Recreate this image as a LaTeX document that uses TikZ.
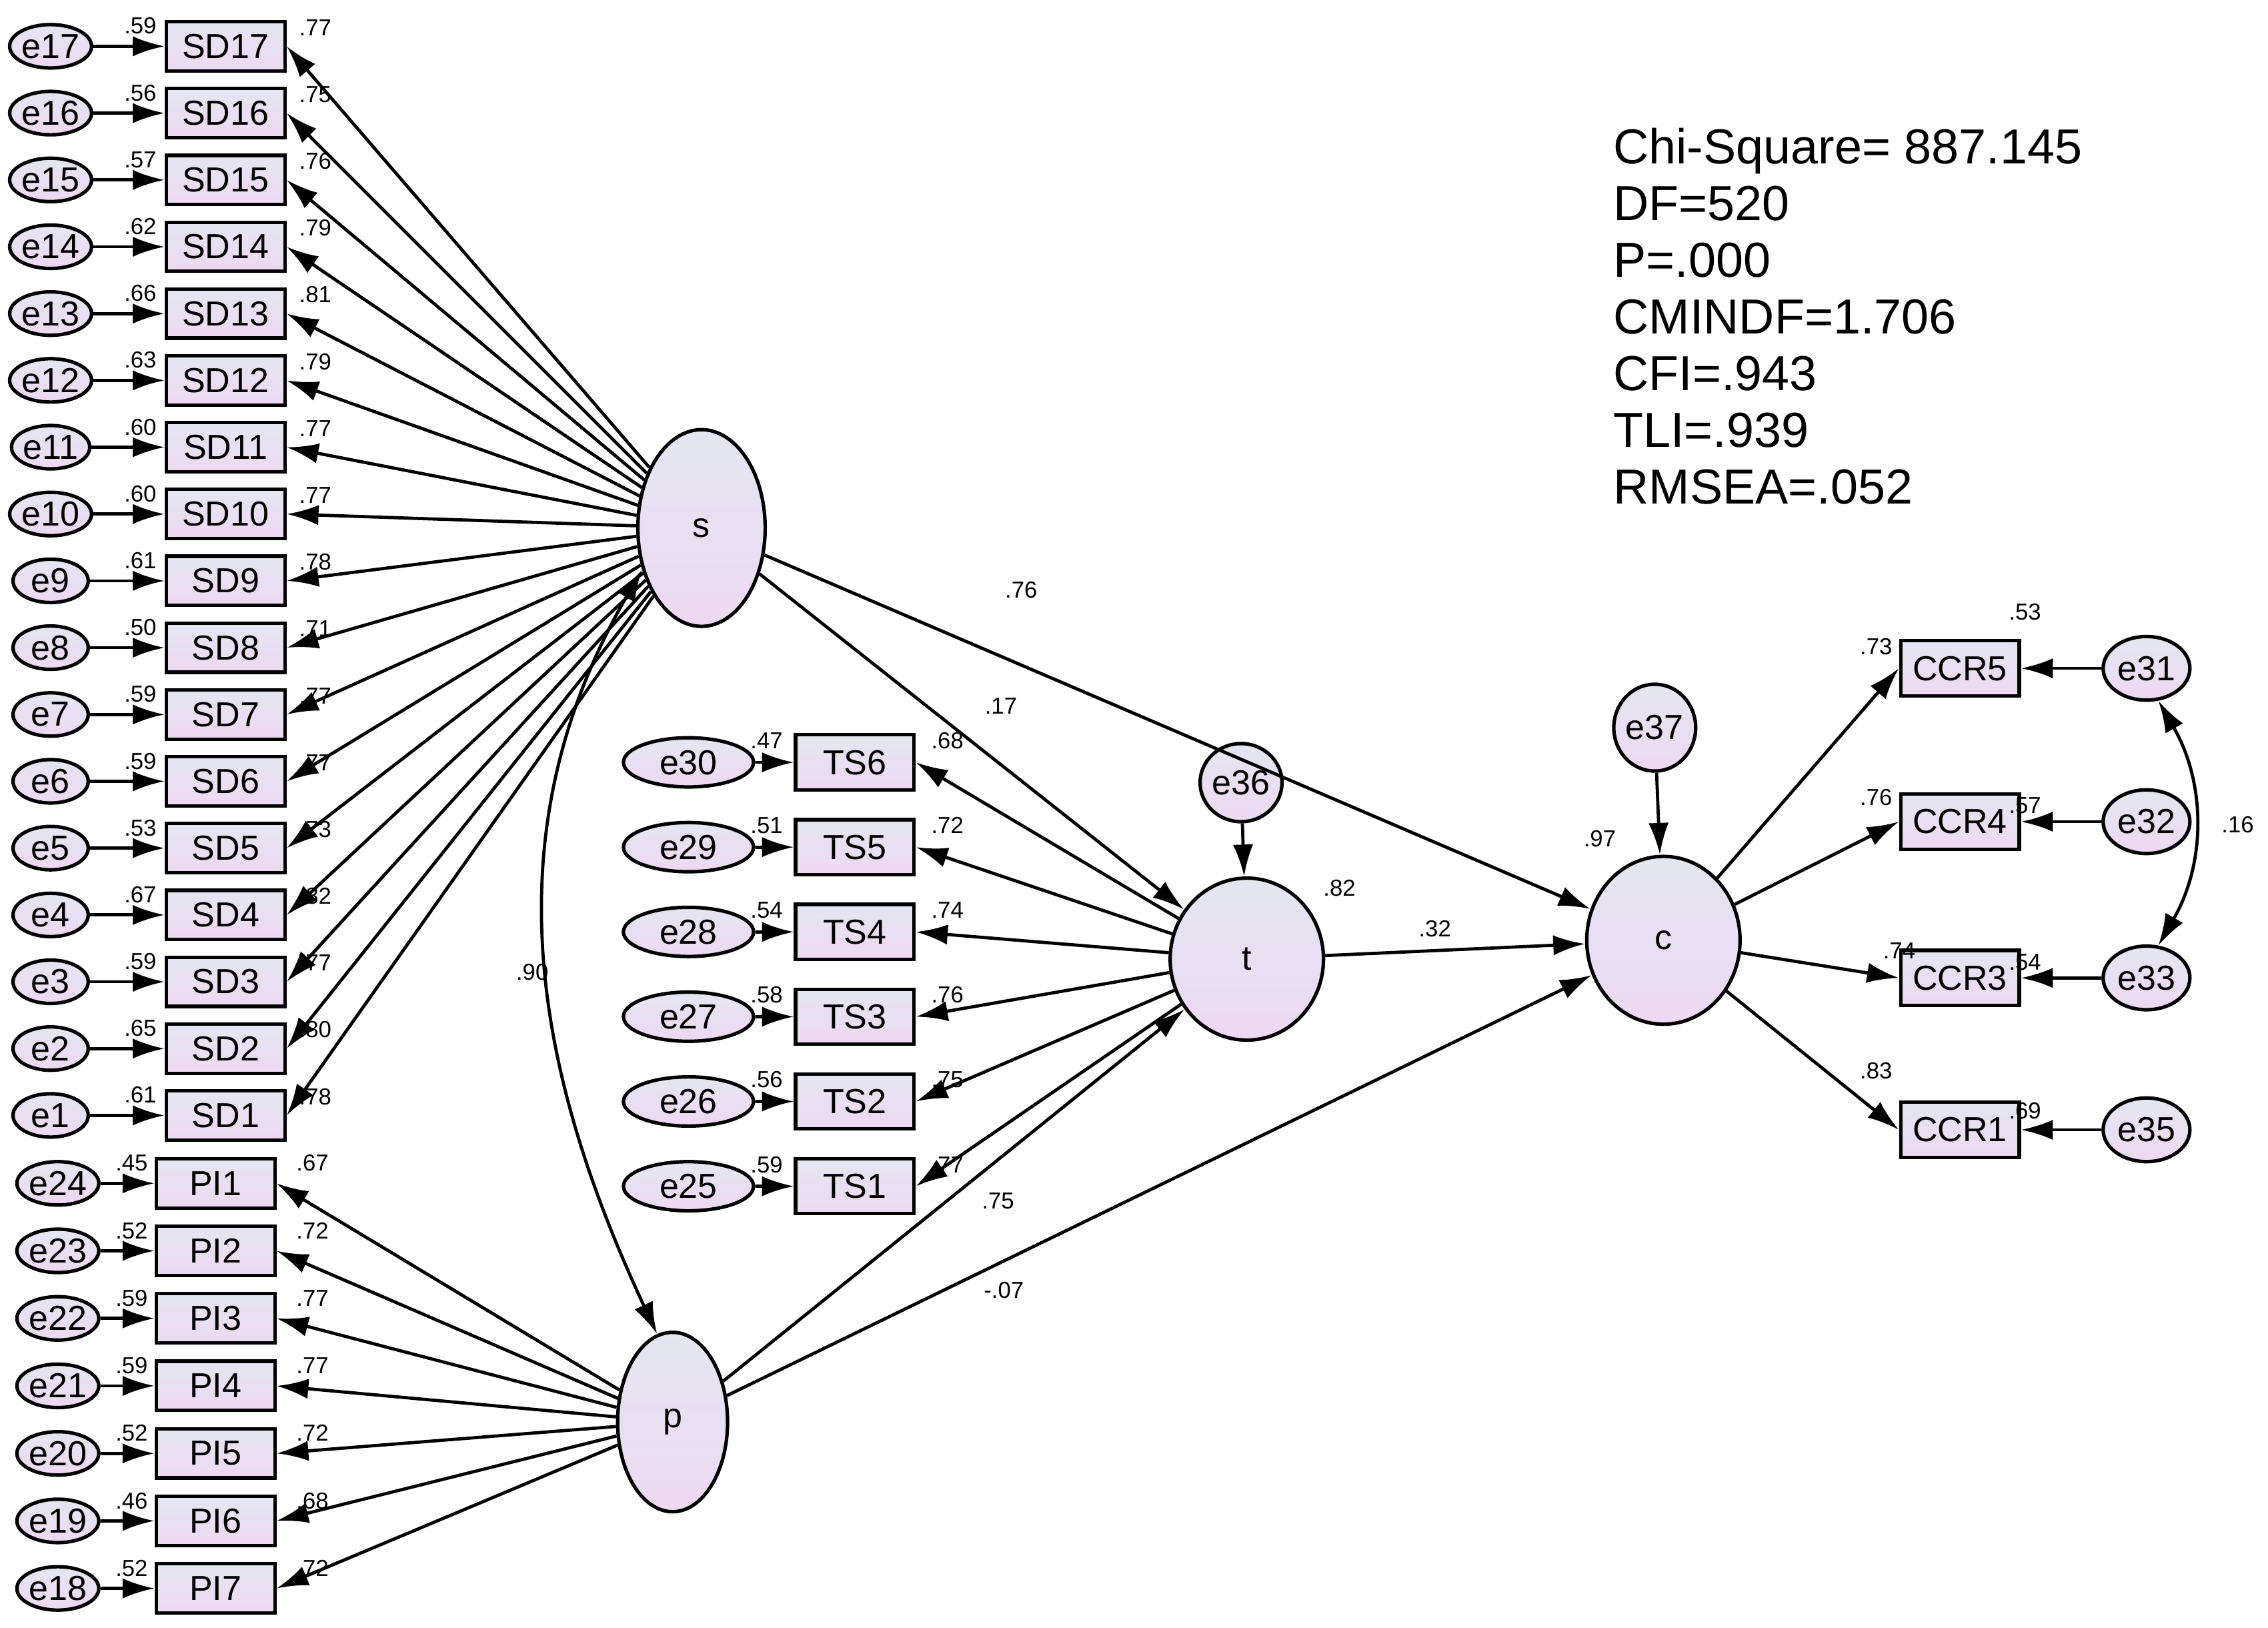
\documentclass[tikz,border=0pt]{standalone}
\usepackage{fontspec}
\setmainfont{Liberation Sans}
\usetikzlibrary{arrows.meta,shapes.geometric}
\begin{document}
\begin{tikzpicture}[x=0.5pt,y=-0.5pt,
 fillc/.style={top color={rgb,255:red,228;green,230;blue,242},bottom color={rgb,255:red,238;green,216;blue,242}},
 box/.style={draw,line width=1.2pt,fillc,minimum width=41pt,minimum height=17pt,inner sep=0pt,font=\fontsize{12}{12}\selectfont},
 err/.style={draw,line width=1.2pt,ellipse,fillc,minimum width=26pt,minimum height=15pt,inner sep=0pt,font=\fontsize{12}{12}\selectfont},
 lat/.style={draw,line width=1.2pt,ellipse,fillc,inner sep=0pt,font=\fontsize{12}{12}\selectfont},
 arr/.style={line width=1.1pt,-{Latex[length=11pt,width=7pt]}},
 darr/.style={line width=1.1pt,{Latex[length=11pt,width=7pt]}-{Latex[length=11pt,width=7pt]}},
 lab/.style={font=\fontsize{8}{8}\selectfont,inner sep=0pt}]
\useasboundingbox (0,0) rectangle (1568,1125);
% latents
\node[lat,minimum width=44pt,minimum height=68pt] (s) at (485,365) {s};
\node[lat,minimum width=38pt,minimum height=62pt] (p) at (465,983) {p};
\node[lat,minimum width=53pt,minimum height=56pt] (t) at (862,663) {t};
\node[lat,minimum width=53pt,minimum height=58pt] (c) at (1150,650) {c};
\node[lat,minimum width=27pt,minimum height=27pt] (e36) at (858,541) {e36};
\node[lat,minimum width=26pt,minimum height=30pt] (e37) at (1144,503) {e37};
% SD
\foreach \i/\ld/\rs in {17/.77/.59,16/.75/.56,15/.76/.57,14/.79/.62,13/.81/.66,12/.79/.63,11/.77/.60,10/.77/.60,9/.78/.61,8/.71/.50,7/.77/.59,6/.77/.59,5/.73/.53,4/.82/.67,3/.77/.59,2/.80/.65,1/.78/.61}{
 \pgfmathsetmacro\yy{32+(17-\i)*46.19}
 \node[box] (sd\i) at (156,\yy) {SD\i};
 \node[err] (e\i) at (35,\yy) {e\i};
 \draw[arr] (e\i) -- (sd\i);
 \draw[arr] (s) -- (sd\i.east);
 \node[lab] at (97,\yy-14) {\rs};
 \node[lab] at (218,\yy-13) {\ld};
}
% PI
\foreach \i/\e/\ld/\rs in {1/24/.67/.45,2/23/.72/.52,3/22/.77/.59,4/21/.77/.59,5/20/.72/.52,6/19/.68/.46,7/18/.72/.52}{
 \pgfmathsetmacro\yy{818+(\i-1)*46.67}
 \node[box] (pi\i) at (149,\yy) {PI\i};
 \node[err] (e\e) at (40,\yy) {e\e};
 \draw[arr] (e\e) -- (pi\i);
 \draw[arr] (p) -- (pi\i.east);
 \node[lab] at (91,\yy-14) {\rs};
 \node[lab] at (216,\yy-14) {\ld};
}
% TS
\foreach \i/\e/\ld/\rs in {6/30/.68/.47,5/29/.72/.51,4/28/.74/.54,3/27/.76/.58,2/26/.75/.56,1/25/.77/.59}{
 \pgfmathsetmacro\yy{527+(6-\i)*58.6}
 \node[box,minimum height=19pt] (ts\i) at (591,\yy) {TS\i};
 \node[err,minimum width=45pt,minimum height=17pt] (e\e) at (476,\yy) {e\e};
 \draw[arr] (e\e) -- (ts\i);
 \draw[arr] (t) -- (ts\i.east);
 \node[lab] at (530,\yy-15) {\rs};
 \node[lab] at (655,\yy-15) {\ld};
}
% CCR
\foreach \n/\e/\yy/\ld/\lx/\ly/\rs/\ry in {5/31/462/.73/1297/447/.53/423,4/32/568/.76/1297/551/.57/557,3/33/676/.74/1313/657/.54/665,1/35/781/.83/1297/740/.69/768}{
 \node[box,minimum height=19pt] (ccr\n) at (1355,\yy) {CCR\n};
 \node[err,minimum width=30pt,minimum height=22pt] (e\e) at (1484,\yy) {e\e};
 \draw[arr] (e\e) -- (ccr\n);
 \draw[arr] (c) -- (ccr\n.west);
 \node[lab] at (\lx,\ly) {\ld};
 \node[lab] at (1400,\ry) {\rs};
}
% structural
\draw[arr] (s) -- (t); \node[lab] at (692,488) {.17};
\draw[arr] (s) -- (c); \node[lab] at (706,408) {.76};
\draw[arr] (t) -- (c); \node[lab] at (992,642) {.32};
\draw[arr] (p) -- (t); \node[lab] at (690,830) {.75};
\draw[arr] (p) -- (c); \node[lab] at (694,892) {-.07};
\draw[arr] (e36) -- (t); \node[lab] at (926,614) {.82};
\draw[arr] (e37) -- (c); \node[lab] at (1106,580) {.97};
\draw[darr] (s.215) to[out=240,in=115] (p.100); \node[lab] at (368,672) {.90};
\draw[darr] (e31.290) to[out=-60,in=60] (e33.70); \node[lab] at (1547,570) {.16};
% stats
\node[anchor=north west,align=left,font=\fontsize{17}{19.6}\selectfont,inner sep=0pt] (st) at (1115,88) {Chi-Square= 887.145\\DF=520\\P=.000\\CMINDF=1.706\\CFI=.943\\TLI=.939\\RMSEA=.052};
\end{tikzpicture}
\end{document}
